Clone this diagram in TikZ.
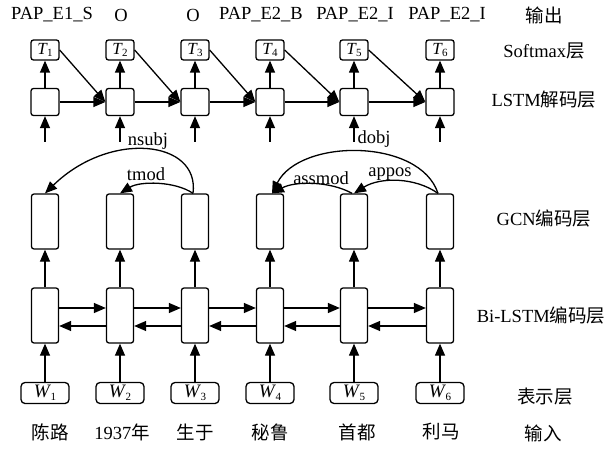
\documentclass[tikz,border=0pt]{standalone}
\usepackage{fontspec}
\setmainfont{Liberation Serif}
\newfontfamily\cjk{Noto Sans CJK SC}
\usetikzlibrary{arrows.meta}
\newcommand{\symsub}[2]{\textit{#1}\kern-0.5pt\raisebox{-0.3ex}{\fontsize{11}{11}\selectfont #2}}
\tikzset{
  lw/.style={line width=1.3pt},
  arr/.style={lw, -{Triangle[length=12pt,width=10pt]}},
  tbox/.style={draw, lw, rounded corners=2.5pt, minimum width=28pt, minimum height=20pt, inner sep=0pt, font=\fontsize{17}{17}\selectfont},
  dbox/.style={draw, lw, rounded corners=2.5pt, minimum width=28pt, minimum height=27pt, inner sep=0pt},
  tallbox/.style={draw, lw, rounded corners=2.5pt, minimum width=27pt, minimum height=55pt, inner sep=0pt},
  wbox/.style={draw, lw, rounded corners=4pt, minimum width=48pt, minimum height=21pt, inner sep=0pt, font=\fontsize{19}{19}\selectfont},
  txt/.style={inner sep=0pt, font=\fontsize{18.5}{20}\selectfont},
}
\begin{document}
\begin{tikzpicture}[x=1pt,y=-1pt]
\fill[white] (0,0) rectangle (612,449);
\useasboundingbox (0,0) rectangle (612,449);
% columns
\foreach \i/\x in {1/45,2/120,3/195,4/270,5/354,6/440} {
  \node[tbox] (t\i) at (\x,50) {\symsub{T}{\i}};
  \node[dbox] (d\i) at (\x,102) {};
  \coordinate (c\i) at (\x,142);
  \node[tallbox] (g\i) at (\x,221.5) {};
  \node[tallbox] (b\i) at (\x,315.5) {};
  \node[wbox] (w\i) at (\x,393) {\symsub{W}{\i}};
}
% vertical arrows
\foreach \i in {1,...,6} {
  \draw[arr] (d\i) -- (t\i);
  \draw[arr] (c\i) -- (d\i);
  \draw[arr] (b\i) -- (g\i);
  \draw[arr] (w\i) -- (b\i);
}
% horizontal arrows
\foreach \i/\j in {1/2,2/3,3/4,4/5,5/6} {
  \draw[arr] (d\i) -- (d\j);
  \draw[arr] (t\i.east) -- (d\j.west);
  \draw[arr] ([yshift=7.5pt]b\i.east) -- ([yshift=7.5pt]b\j.west);
  \draw[arr] ([yshift=-10.5pt]b\j.west) -- ([yshift=-10.5pt]b\i.east);
}
% dependency arcs
\draw[arr] ([xshift=-2pt]g3.north) .. controls (200,140) and (110,130) .. (g1.north);
\draw[arr] ([xshift=-2pt]g3.north) .. controls (175,181) and (140,181) .. (g2.north);
\draw[arr] ([xshift=-2pt]g6.north) .. controls (420,138) and (300,138) .. ([xshift=2pt]g4.north);
\draw[arr] ([xshift=-2pt]g5.north) .. controls (330,181) and (295,181) .. ([xshift=2pt]g4.north);
\draw[arr] ([xshift=-2pt]g6.north) .. controls (415,177) and (380,177) .. (g5.north);
% relation labels
\node[txt] (lnsubj) at (148,141) {nsubj};
\node[txt] (ltmod) at (146,174) {tmod};
\node[txt] (ldobj) at (374,139) {dobj};
\node[txt] (lassmod) at (321,178) {assmod};
\node[txt] (lappos) at (390,174) {appos};
% output labels
\node[txt] (o1) at (52,15) {PAP\_E1\_S};
\node[txt] (o2) at (121,15) {O};
\node[txt] (o3) at (193,15) {O};
\node[txt] (o4) at (261,15) {PAP\_E2\_B};
\node[txt] (o5) at (355,15) {PAP\_E2\_I};
\node[txt] (o6) at (447,15) {PAP\_E2\_I};
% input words
\node[txt] (i1) at (50,432) {\cjk 陈路};
\node[txt] (i2) at (122,432) {1937{\cjk 年}};
\node[txt] (i3) at (195,432) {\cjk 生于};
\node[txt] (i4) at (270,432) {\cjk 秘鲁};
\node[txt] (i5) at (357,432) {\cjk 首都};
\node[txt] (i6) at (441,432) {\cjk 利马};
% layer labels
\node[txt] (r1) at (544,15) {\cjk 输出};
\node[txt] (r2) at (544,51) {Softmax{\cjk 层}};
\node[txt] (r3) at (544,100) {LSTM{\cjk 解码层}};
\node[txt] (r4) at (544,218) {GCN{\cjk 编码层}};
\node[txt] (r5) at (541,315) {Bi-LSTM{\cjk 编码层}};
\node[txt] (r6) at (545,397) {\cjk 表示层};
\node[txt] (r7) at (543,433) {\cjk 输入};
\end{tikzpicture}
\end{document}
